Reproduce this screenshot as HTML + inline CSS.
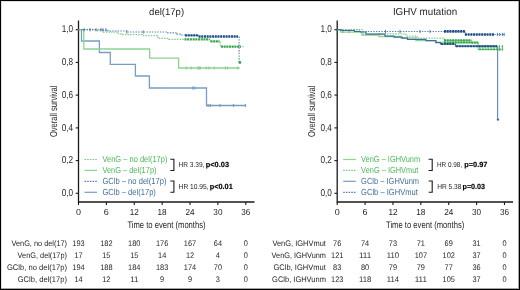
<!DOCTYPE html><html><head><meta charset="utf-8"><style>html,body{margin:0;padding:0;background:#fff;overflow:hidden;width:520px;height:290px;}svg{display:block;will-change:transform;}text{font-family:"Liberation Sans",sans-serif;text-rendering:geometricPrecision;}</style></head><body>
<svg width="520" height="290" viewBox="0 0 520 290">
<rect x="0" y="0" width="520" height="290" fill="#fff"/>
<path d="M78.5 20.5 V202.0 H254.5" fill="none" stroke="#1a1a1a" stroke-width="1.3"/>
<path d="M75.7 29.7 H78.5" stroke="#1a1a1a" stroke-width="1.1"/>
<text x="73.1" y="32.4" font-size="10" text-anchor="end" fill="#231f20" textLength="11.4" lengthAdjust="spacingAndGlyphs" >1,0</text>
<path d="M75.7 62.4 H78.5" stroke="#1a1a1a" stroke-width="1.1"/>
<text x="73.1" y="65.1" font-size="10" text-anchor="end" fill="#231f20" textLength="11.4" lengthAdjust="spacingAndGlyphs" >0,8</text>
<path d="M75.7 95.1 H78.5" stroke="#1a1a1a" stroke-width="1.1"/>
<text x="73.1" y="97.8" font-size="10" text-anchor="end" fill="#231f20" textLength="11.4" lengthAdjust="spacingAndGlyphs" >0,6</text>
<path d="M75.7 127.9 H78.5" stroke="#1a1a1a" stroke-width="1.1"/>
<text x="73.1" y="130.6" font-size="10" text-anchor="end" fill="#231f20" textLength="11.4" lengthAdjust="spacingAndGlyphs" >0,4</text>
<path d="M75.7 160.6 H78.5" stroke="#1a1a1a" stroke-width="1.1"/>
<text x="73.1" y="163.3" font-size="10" text-anchor="end" fill="#231f20" textLength="11.4" lengthAdjust="spacingAndGlyphs" >0,2</text>
<path d="M75.7 193.3 H78.5" stroke="#1a1a1a" stroke-width="1.1"/>
<text x="73.1" y="196.0" font-size="10" text-anchor="end" fill="#231f20" textLength="11.4" lengthAdjust="spacingAndGlyphs" >0,0</text>
<path d="M78.5 202.0 V205.0" stroke="#1a1a1a" stroke-width="1.1"/>
<text x="78.5" y="214.9" font-size="8.7" text-anchor="middle" fill="#231f20" textLength="5.0" lengthAdjust="spacingAndGlyphs" >0</text>
<path d="M106.38 202.0 V205.0" stroke="#1a1a1a" stroke-width="1.1"/>
<text x="106.38" y="214.9" font-size="8.7" text-anchor="middle" fill="#231f20" textLength="5.0" lengthAdjust="spacingAndGlyphs" >6</text>
<path d="M134.26 202.0 V205.0" stroke="#1a1a1a" stroke-width="1.1"/>
<text x="134.26" y="214.9" font-size="8.7" text-anchor="middle" fill="#231f20" textLength="9.1" lengthAdjust="spacingAndGlyphs" >12</text>
<path d="M162.14 202.0 V205.0" stroke="#1a1a1a" stroke-width="1.1"/>
<text x="162.14" y="214.9" font-size="8.7" text-anchor="middle" fill="#231f20" textLength="9.1" lengthAdjust="spacingAndGlyphs" >18</text>
<path d="M190.02 202.0 V205.0" stroke="#1a1a1a" stroke-width="1.1"/>
<text x="190.02" y="214.9" font-size="8.7" text-anchor="middle" fill="#231f20" textLength="9.1" lengthAdjust="spacingAndGlyphs" >24</text>
<path d="M217.9 202.0 V205.0" stroke="#1a1a1a" stroke-width="1.1"/>
<text x="217.9" y="214.9" font-size="8.7" text-anchor="middle" fill="#231f20" textLength="9.1" lengthAdjust="spacingAndGlyphs" >30</text>
<path d="M245.78 202.0 V205.0" stroke="#1a1a1a" stroke-width="1.1"/>
<text x="245.78" y="214.9" font-size="8.7" text-anchor="middle" fill="#231f20" textLength="9.1" lengthAdjust="spacingAndGlyphs" >36</text>
<text x="166.6" y="15.1" font-size="9.6" text-anchor="middle" fill="#231f20" textLength="35" lengthAdjust="spacingAndGlyphs" >del(17p)</text>
<text transform="translate(56.6 111.3) rotate(-90)" x="0" y="0" font-size="10" text-anchor="middle" fill="#231f20" textLength="51.6" lengthAdjust="spacingAndGlyphs">Overall survival</text>
<text x="166.5" y="228.0" font-size="9.6" text-anchor="middle" fill="#231f20" textLength="78.2" lengthAdjust="spacingAndGlyphs" >Time to event (months)</text>
<path d="M84.5 159.5 H97.1" stroke="#7cca85" stroke-width="1.2" stroke-dasharray="1.6 1.08"/>
<text x="102.4" y="162.4" font-size="8.8" text-anchor="start" fill="#4cb85a" textLength="65" lengthAdjust="spacingAndGlyphs" >VenG – no del(17p)</text>
<path d="M84.5 170.4 H97.1" stroke="#8cd492" stroke-width="1.2"/>
<text x="102.4" y="172.8" font-size="8.8" text-anchor="start" fill="#4cb85a" textLength="54.1" lengthAdjust="spacingAndGlyphs" >VenG – del(17p)</text>
<path d="M84.5 181.3 H97.1" stroke="#5a82af" stroke-width="1.2" stroke-dasharray="1.6 1.08"/>
<text x="102.4" y="184.2" font-size="8.8" text-anchor="start" fill="#41709f" textLength="64.1" lengthAdjust="spacingAndGlyphs" >GClb – no del(17p)</text>
<path d="M84.5 192.3 H97.1" stroke="#779ec2" stroke-width="1.2"/>
<text x="102.4" y="194.5" font-size="8.8" text-anchor="start" fill="#41709f" textLength="53.5" lengthAdjust="spacingAndGlyphs" >GClb – del(17p)</text>
<path d="M170.3 159.2 H173.9 V170.5 H170.3" fill="none" stroke="#1a1a1a" stroke-width="1.1"/>
<path d="M170.3 181.0 H173.9 V192.2 H170.3" fill="none" stroke="#1a1a1a" stroke-width="1.1"/>
<text x="178.4" y="166.8" font-size="7.2" fill="#231f20" textLength="26.0" lengthAdjust="spacingAndGlyphs">HR 3.39,</text>
<text x="205.8" y="166.8" font-size="7.4" font-weight="bold" fill="#000" stroke="#000" stroke-width="0.15" textLength="23.2" lengthAdjust="spacingAndGlyphs">p&lt;0.03</text>
<text x="178.6" y="188.8" font-size="7.2" fill="#231f20" textLength="30.0" lengthAdjust="spacingAndGlyphs">HR 10.95,</text>
<text x="209.7" y="188.8" font-size="7.4" font-weight="bold" fill="#000" stroke="#000" stroke-width="0.15" textLength="23.1" lengthAdjust="spacingAndGlyphs">p&lt;0.01</text>
<text x="67.0" y="246.0" font-size="8.1" text-anchor="end" fill="#231f20" textLength="55.5" lengthAdjust="spacingAndGlyphs" >VenG, no del(17)</text>
<text x="78.5" y="246.0" font-size="8.1" text-anchor="middle" fill="#231f20" textLength="12.3" lengthAdjust="spacingAndGlyphs" >193</text>
<text x="106.38" y="246.0" font-size="8.1" text-anchor="middle" fill="#231f20" textLength="12.3" lengthAdjust="spacingAndGlyphs" >182</text>
<text x="134.26" y="246.0" font-size="8.1" text-anchor="middle" fill="#231f20" textLength="12.3" lengthAdjust="spacingAndGlyphs" >180</text>
<text x="162.14" y="246.0" font-size="8.1" text-anchor="middle" fill="#231f20" textLength="12.3" lengthAdjust="spacingAndGlyphs" >176</text>
<text x="190.02" y="246.0" font-size="8.1" text-anchor="middle" fill="#231f20" textLength="12.3" lengthAdjust="spacingAndGlyphs" >167</text>
<text x="217.9" y="246.0" font-size="8.1" text-anchor="middle" fill="#231f20" textLength="8.2" lengthAdjust="spacingAndGlyphs" >64</text>
<text x="245.78" y="246.0" font-size="8.1" text-anchor="middle" fill="#231f20" textLength="4.1" lengthAdjust="spacingAndGlyphs" >0</text>
<text x="67.0" y="258.0" font-size="8.1" text-anchor="end" fill="#231f20" textLength="49.4" lengthAdjust="spacingAndGlyphs" >VenG, del(17p)</text>
<text x="78.5" y="258.0" font-size="8.1" text-anchor="middle" fill="#231f20" textLength="8.2" lengthAdjust="spacingAndGlyphs" >17</text>
<text x="106.38" y="258.0" font-size="8.1" text-anchor="middle" fill="#231f20" textLength="8.2" lengthAdjust="spacingAndGlyphs" >15</text>
<text x="134.26" y="258.0" font-size="8.1" text-anchor="middle" fill="#231f20" textLength="8.2" lengthAdjust="spacingAndGlyphs" >15</text>
<text x="162.14" y="258.0" font-size="8.1" text-anchor="middle" fill="#231f20" textLength="8.2" lengthAdjust="spacingAndGlyphs" >14</text>
<text x="190.02" y="258.0" font-size="8.1" text-anchor="middle" fill="#231f20" textLength="8.2" lengthAdjust="spacingAndGlyphs" >12</text>
<text x="217.9" y="258.0" font-size="8.1" text-anchor="middle" fill="#231f20" textLength="4.1" lengthAdjust="spacingAndGlyphs" >4</text>
<text x="245.78" y="258.0" font-size="8.1" text-anchor="middle" fill="#231f20" textLength="4.1" lengthAdjust="spacingAndGlyphs" >0</text>
<text x="67.0" y="269.9" font-size="8.1" text-anchor="end" fill="#231f20" textLength="60.1" lengthAdjust="spacingAndGlyphs" >GClb, no del(17p)</text>
<text x="78.5" y="269.9" font-size="8.1" text-anchor="middle" fill="#231f20" textLength="12.3" lengthAdjust="spacingAndGlyphs" >194</text>
<text x="106.38" y="269.9" font-size="8.1" text-anchor="middle" fill="#231f20" textLength="12.3" lengthAdjust="spacingAndGlyphs" >188</text>
<text x="134.26" y="269.9" font-size="8.1" text-anchor="middle" fill="#231f20" textLength="12.3" lengthAdjust="spacingAndGlyphs" >184</text>
<text x="162.14" y="269.9" font-size="8.1" text-anchor="middle" fill="#231f20" textLength="12.3" lengthAdjust="spacingAndGlyphs" >183</text>
<text x="190.02" y="269.9" font-size="8.1" text-anchor="middle" fill="#231f20" textLength="12.3" lengthAdjust="spacingAndGlyphs" >174</text>
<text x="217.9" y="269.9" font-size="8.1" text-anchor="middle" fill="#231f20" textLength="8.2" lengthAdjust="spacingAndGlyphs" >70</text>
<text x="245.78" y="269.9" font-size="8.1" text-anchor="middle" fill="#231f20" textLength="4.1" lengthAdjust="spacingAndGlyphs" >0</text>
<text x="67.0" y="281.6" font-size="8.1" text-anchor="end" fill="#231f20" textLength="49.3" lengthAdjust="spacingAndGlyphs" >GClb, del(17p)</text>
<text x="78.5" y="281.6" font-size="8.1" text-anchor="middle" fill="#231f20" textLength="8.2" lengthAdjust="spacingAndGlyphs" >14</text>
<text x="106.38" y="281.6" font-size="8.1" text-anchor="middle" fill="#231f20" textLength="8.2" lengthAdjust="spacingAndGlyphs" >12</text>
<text x="134.26" y="281.6" font-size="8.1" text-anchor="middle" fill="#231f20" textLength="8.2" lengthAdjust="spacingAndGlyphs" >11</text>
<text x="162.14" y="281.6" font-size="8.1" text-anchor="middle" fill="#231f20" textLength="4.1" lengthAdjust="spacingAndGlyphs" >9</text>
<text x="190.02" y="281.6" font-size="8.1" text-anchor="middle" fill="#231f20" textLength="4.1" lengthAdjust="spacingAndGlyphs" >9</text>
<text x="217.9" y="281.6" font-size="8.1" text-anchor="middle" fill="#231f20" textLength="4.1" lengthAdjust="spacingAndGlyphs" >3</text>
<text x="245.78" y="281.6" font-size="8.1" text-anchor="middle" fill="#231f20" textLength="4.1" lengthAdjust="spacingAndGlyphs" >0</text>
<path d="M337.2 20.5 V202.0 H513.1" fill="none" stroke="#1a1a1a" stroke-width="1.3"/>
<path d="M334.4 29.7 H337.2" stroke="#1a1a1a" stroke-width="1.1"/>
<text x="331.8" y="32.4" font-size="10" text-anchor="end" fill="#231f20" textLength="11.4" lengthAdjust="spacingAndGlyphs" >1,0</text>
<path d="M334.4 62.4 H337.2" stroke="#1a1a1a" stroke-width="1.1"/>
<text x="331.8" y="65.1" font-size="10" text-anchor="end" fill="#231f20" textLength="11.4" lengthAdjust="spacingAndGlyphs" >0,8</text>
<path d="M334.4 95.1 H337.2" stroke="#1a1a1a" stroke-width="1.1"/>
<text x="331.8" y="97.8" font-size="10" text-anchor="end" fill="#231f20" textLength="11.4" lengthAdjust="spacingAndGlyphs" >0,6</text>
<path d="M334.4 127.9 H337.2" stroke="#1a1a1a" stroke-width="1.1"/>
<text x="331.8" y="130.6" font-size="10" text-anchor="end" fill="#231f20" textLength="11.4" lengthAdjust="spacingAndGlyphs" >0,4</text>
<path d="M334.4 160.6 H337.2" stroke="#1a1a1a" stroke-width="1.1"/>
<text x="331.8" y="163.3" font-size="10" text-anchor="end" fill="#231f20" textLength="11.4" lengthAdjust="spacingAndGlyphs" >0,2</text>
<path d="M334.4 193.3 H337.2" stroke="#1a1a1a" stroke-width="1.1"/>
<text x="331.8" y="196.0" font-size="10" text-anchor="end" fill="#231f20" textLength="11.4" lengthAdjust="spacingAndGlyphs" >0,0</text>
<path d="M337.2 202.0 V205.0" stroke="#1a1a1a" stroke-width="1.1"/>
<text x="337.2" y="214.9" font-size="8.7" text-anchor="middle" fill="#231f20" textLength="5.0" lengthAdjust="spacingAndGlyphs" >0</text>
<path d="M365.08 202.0 V205.0" stroke="#1a1a1a" stroke-width="1.1"/>
<text x="365.08" y="214.9" font-size="8.7" text-anchor="middle" fill="#231f20" textLength="5.0" lengthAdjust="spacingAndGlyphs" >6</text>
<path d="M392.96 202.0 V205.0" stroke="#1a1a1a" stroke-width="1.1"/>
<text x="392.96" y="214.9" font-size="8.7" text-anchor="middle" fill="#231f20" textLength="9.1" lengthAdjust="spacingAndGlyphs" >12</text>
<path d="M420.84 202.0 V205.0" stroke="#1a1a1a" stroke-width="1.1"/>
<text x="420.84" y="214.9" font-size="8.7" text-anchor="middle" fill="#231f20" textLength="9.1" lengthAdjust="spacingAndGlyphs" >18</text>
<path d="M448.72 202.0 V205.0" stroke="#1a1a1a" stroke-width="1.1"/>
<text x="448.72" y="214.9" font-size="8.7" text-anchor="middle" fill="#231f20" textLength="9.1" lengthAdjust="spacingAndGlyphs" >24</text>
<path d="M476.6 202.0 V205.0" stroke="#1a1a1a" stroke-width="1.1"/>
<text x="476.6" y="214.9" font-size="8.7" text-anchor="middle" fill="#231f20" textLength="9.1" lengthAdjust="spacingAndGlyphs" >30</text>
<path d="M504.48 202.0 V205.0" stroke="#1a1a1a" stroke-width="1.1"/>
<text x="504.48" y="214.9" font-size="8.7" text-anchor="middle" fill="#231f20" textLength="9.1" lengthAdjust="spacingAndGlyphs" >36</text>
<text x="425.0" y="15.1" font-size="10.2" text-anchor="middle" fill="#231f20" textLength="64.2" lengthAdjust="spacingAndGlyphs" >IGHV mutation</text>
<text transform="translate(315.4 111.3) rotate(-90)" x="0" y="0" font-size="10" text-anchor="middle" fill="#231f20" textLength="51.6" lengthAdjust="spacingAndGlyphs">Overall survival</text>
<text x="425.15" y="228.0" font-size="9.6" text-anchor="middle" fill="#231f20" textLength="78.2" lengthAdjust="spacingAndGlyphs" >Time to event (months)</text>
<path d="M343.2 159.5 H355.8" stroke="#8cd492" stroke-width="1.2"/>
<text x="361.1" y="162.4" font-size="8.8" text-anchor="start" fill="#4cb85a" textLength="59" lengthAdjust="spacingAndGlyphs" >VenG – IGHVunm</text>
<path d="M343.2 170.4 H355.8" stroke="#7cca85" stroke-width="1.2" stroke-dasharray="1.6 1.08"/>
<text x="361.1" y="172.8" font-size="8.8" text-anchor="start" fill="#4cb85a" textLength="57.3" lengthAdjust="spacingAndGlyphs" >VenG – IGHVmut</text>
<path d="M343.2 181.3 H355.8" stroke="#779ec2" stroke-width="1.2"/>
<text x="361.1" y="184.2" font-size="8.8" text-anchor="start" fill="#41709f" textLength="58" lengthAdjust="spacingAndGlyphs" >GClb – IGHVunm</text>
<path d="M343.2 192.3 H355.8" stroke="#5a82af" stroke-width="1.2" stroke-dasharray="1.6 1.08"/>
<text x="361.1" y="194.5" font-size="8.8" text-anchor="start" fill="#41709f" textLength="56.7" lengthAdjust="spacingAndGlyphs" >GClb – IGHVmut</text>
<path d="M428.6 159.2 H432.2 V170.5 H428.6" fill="none" stroke="#1a1a1a" stroke-width="1.1"/>
<path d="M428.6 181.0 H432.2 V192.2 H428.6" fill="none" stroke="#1a1a1a" stroke-width="1.1"/>
<text x="437.0" y="166.8" font-size="7.2" fill="#231f20" textLength="25.2" lengthAdjust="spacingAndGlyphs">HR 0.98,</text>
<text x="464.3" y="166.8" font-size="7.4" font-weight="bold" fill="#000" stroke="#000" stroke-width="0.15" textLength="23.1" lengthAdjust="spacingAndGlyphs">p=0.97</text>
<text x="437.2" y="188.8" font-size="7.2" fill="#231f20" textLength="24.2" lengthAdjust="spacingAndGlyphs">HR 5.38</text>
<text x="462.5" y="188.8" font-size="7.4" font-weight="bold" fill="#000" stroke="#000" stroke-width="0.15" textLength="22.6" lengthAdjust="spacingAndGlyphs">p=0.03</text>
<text x="325.9" y="246.0" font-size="8.1" text-anchor="end" fill="#231f20" textLength="53.5" lengthAdjust="spacingAndGlyphs" >VenG, IGHVmut</text>
<text x="337.2" y="246.0" font-size="8.1" text-anchor="middle" fill="#231f20" textLength="8.2" lengthAdjust="spacingAndGlyphs" >76</text>
<text x="365.08" y="246.0" font-size="8.1" text-anchor="middle" fill="#231f20" textLength="8.2" lengthAdjust="spacingAndGlyphs" >74</text>
<text x="392.96" y="246.0" font-size="8.1" text-anchor="middle" fill="#231f20" textLength="8.2" lengthAdjust="spacingAndGlyphs" >73</text>
<text x="420.84" y="246.0" font-size="8.1" text-anchor="middle" fill="#231f20" textLength="8.2" lengthAdjust="spacingAndGlyphs" >71</text>
<text x="448.72" y="246.0" font-size="8.1" text-anchor="middle" fill="#231f20" textLength="8.2" lengthAdjust="spacingAndGlyphs" >69</text>
<text x="476.6" y="246.0" font-size="8.1" text-anchor="middle" fill="#231f20" textLength="8.2" lengthAdjust="spacingAndGlyphs" >31</text>
<text x="504.48" y="246.0" font-size="8.1" text-anchor="middle" fill="#231f20" textLength="4.1" lengthAdjust="spacingAndGlyphs" >0</text>
<text x="325.9" y="258.0" font-size="8.1" text-anchor="end" fill="#231f20" textLength="54.3" lengthAdjust="spacingAndGlyphs" >VenG, IGHVunm</text>
<text x="337.2" y="258.0" font-size="8.1" text-anchor="middle" fill="#231f20" textLength="12.3" lengthAdjust="spacingAndGlyphs" >121</text>
<text x="365.08" y="258.0" font-size="8.1" text-anchor="middle" fill="#231f20" textLength="12.3" lengthAdjust="spacingAndGlyphs" >111</text>
<text x="392.96" y="258.0" font-size="8.1" text-anchor="middle" fill="#231f20" textLength="12.3" lengthAdjust="spacingAndGlyphs" >110</text>
<text x="420.84" y="258.0" font-size="8.1" text-anchor="middle" fill="#231f20" textLength="12.3" lengthAdjust="spacingAndGlyphs" >107</text>
<text x="448.72" y="258.0" font-size="8.1" text-anchor="middle" fill="#231f20" textLength="12.3" lengthAdjust="spacingAndGlyphs" >102</text>
<text x="476.6" y="258.0" font-size="8.1" text-anchor="middle" fill="#231f20" textLength="8.2" lengthAdjust="spacingAndGlyphs" >37</text>
<text x="504.48" y="258.0" font-size="8.1" text-anchor="middle" fill="#231f20" textLength="4.1" lengthAdjust="spacingAndGlyphs" >0</text>
<text x="325.9" y="269.9" font-size="8.1" text-anchor="end" fill="#231f20" textLength="52.5" lengthAdjust="spacingAndGlyphs" >GClb, IGHVmut</text>
<text x="337.2" y="269.9" font-size="8.1" text-anchor="middle" fill="#231f20" textLength="8.2" lengthAdjust="spacingAndGlyphs" >83</text>
<text x="365.08" y="269.9" font-size="8.1" text-anchor="middle" fill="#231f20" textLength="8.2" lengthAdjust="spacingAndGlyphs" >80</text>
<text x="392.96" y="269.9" font-size="8.1" text-anchor="middle" fill="#231f20" textLength="8.2" lengthAdjust="spacingAndGlyphs" >79</text>
<text x="420.84" y="269.9" font-size="8.1" text-anchor="middle" fill="#231f20" textLength="8.2" lengthAdjust="spacingAndGlyphs" >79</text>
<text x="448.72" y="269.9" font-size="8.1" text-anchor="middle" fill="#231f20" textLength="8.2" lengthAdjust="spacingAndGlyphs" >77</text>
<text x="476.6" y="269.9" font-size="8.1" text-anchor="middle" fill="#231f20" textLength="8.2" lengthAdjust="spacingAndGlyphs" >36</text>
<text x="504.48" y="269.9" font-size="8.1" text-anchor="middle" fill="#231f20" textLength="4.1" lengthAdjust="spacingAndGlyphs" >0</text>
<text x="325.9" y="281.6" font-size="8.1" text-anchor="end" fill="#231f20" textLength="53.8" lengthAdjust="spacingAndGlyphs" >GClb, IGHVunm</text>
<text x="337.2" y="281.6" font-size="8.1" text-anchor="middle" fill="#231f20" textLength="12.3" lengthAdjust="spacingAndGlyphs" >123</text>
<text x="365.08" y="281.6" font-size="8.1" text-anchor="middle" fill="#231f20" textLength="12.3" lengthAdjust="spacingAndGlyphs" >118</text>
<text x="392.96" y="281.6" font-size="8.1" text-anchor="middle" fill="#231f20" textLength="12.3" lengthAdjust="spacingAndGlyphs" >114</text>
<text x="420.84" y="281.6" font-size="8.1" text-anchor="middle" fill="#231f20" textLength="12.3" lengthAdjust="spacingAndGlyphs" >111</text>
<text x="448.72" y="281.6" font-size="8.1" text-anchor="middle" fill="#231f20" textLength="12.3" lengthAdjust="spacingAndGlyphs" >105</text>
<text x="476.6" y="281.6" font-size="8.1" text-anchor="middle" fill="#231f20" textLength="8.2" lengthAdjust="spacingAndGlyphs" >37</text>
<text x="504.48" y="281.6" font-size="8.1" text-anchor="middle" fill="#231f20" textLength="4.1" lengthAdjust="spacingAndGlyphs" >0</text>
<path d="M78.5 29.7 H81.5 V41 H99.4 V52.5 H110.3 V64.4 H135.4 V76 H149.4 V88 H206.5 V105.5 H245.8" fill="none" stroke="#779ec2" stroke-width="1.3"/>
<path d="M192.6 86.4 V89.6 M194.7 86.4 V89.6" stroke="#779ec2" stroke-width="1.2"/>
<path d="M208.1 103.9 V107.1 M210.4 103.9 V107.1 M220.1 103.9 V107.1 M233.5 103.9 V107.1 M245.5 103.9 V107.1" stroke="#779ec2" stroke-width="1.2"/>
<path d="M78.5 29.7 H83.8 V49 H149.7 V58.2 H178.6 V68 H239.8" fill="none" stroke="#8cd492" stroke-width="1.3"/>
<path d="M186.4 66.4 V69.6 M191.3 66.4 V69.6 M197.8 66.4 V69.6 M199.2 66.4 V69.6 M200.3 66.4 V69.6 M206.2 66.4 V69.6 M208.9 66.4 V69.6 M214.2 66.4 V69.6 M225.3 66.4 V69.6 M227.4 66.4 V69.6 M237.8 66.4 V69.6" stroke="#8cd492" stroke-width="1.3"/>
<path d="M78.5 29.7 H96.5 V30.5 H103.4 V32.2 H117 V33.7 H121 V34.7 H142 V35.6 H158 V38.4 H169 V39.3 H209.8 V41.3 H220.3 V46.7 H243.5" fill="none" stroke="#7cca85" stroke-width="1.25" stroke-dasharray="1.4 1.3"/>
<path d="M78.5 29.7 H101 V30.3 H108 V31 H127.3 V32 H166.7 V32.9 H177 V34.2 H181 V35 H185 V35.4 H198.3 V36.5 H239.1 V62.2" fill="none" stroke="#5a82af" stroke-width="1.2" stroke-dasharray="1.4 1.3"/>
<path d="M185 35.4 H198 M198.6 36.5 H238" stroke="#1f4f86" stroke-width="2.4" stroke-dasharray="2.0 0.7"/>
<path d="M184.5 39.4 H209.5 M210.5 41.3 H219.5 M221 46.7 H241" stroke="#3aa64a" stroke-width="2.2" stroke-dasharray="2.0 0.7"/>
<path d="M84 28.1 V31.3 M90 28.1 V31.3 M96 28.1 V31.3 M101 28.1 V31.3 M103 28.1 V31.3 M106 28.1 V31.3" stroke="#41709f" stroke-width="0.9"/>
<path d="M143.2 30.4 V33.6 M126.8 30.4 V33.6" stroke="#41709f" stroke-width="0.9"/>
<circle cx="239.9" cy="62.5" r="1.4" fill="#3aa64a"/>
<path d="M337.2 29.7 H359.4 V31.5 H465 V34.5 H504.6" fill="none" stroke="#5a82af" stroke-width="1.2" stroke-dasharray="1.4 1.3"/>
<path d="M343 29.9 V33.1 M349 29.9 V33.1 M385.5 29.9 V33.1 M400 29.9 V33.1 M420 29.9 V33.1 M430 29.9 V33.1" stroke="#41709f" stroke-width="0.9"/>
<path d="M444 31.4 H465" stroke="#1f4f86" stroke-width="2.6" stroke-dasharray="2.0 0.7"/>
<path d="M465 34.5 H494" stroke="#1f4f86" stroke-width="2.4" stroke-dasharray="2.0 0.7"/>
<path d="M497.4 32.9 V36.1 M499.7 32.9 V36.1 M502.4 32.9 V36.1 M504.2 32.9 V36.1" stroke="#41709f" stroke-width="0.9"/>
<path d="M337.2 29.7 H363 V33.8 H406 V36 H417 V38.1 H444.5 V40.3 H471.4 V43.6 H478.2 V46.4 H503.3" fill="none" stroke="#7cca85" stroke-width="1.25" stroke-dasharray="1.4 1.3"/>
<path d="M337.2 29.7 H340.5 V32.2 H361.8 V35.2 H379 V36.5 H401 V37.8 H416 V40.6 H436 V42.1 H444 V42.5 H478.2 V49.3 H503.3" fill="none" stroke="#8cd492" stroke-width="1.3"/>
<path d="M444 40.3 H471.4 M444 42.4 H478" stroke="#3aa64a" stroke-width="2.0" stroke-dasharray="2.0 0.7"/>
<path d="M479 49.3 H501 M479 46.6 H497" stroke="#3aa64a" stroke-width="1.8" stroke-dasharray="2.0 0.8"/>
<path d="M499.5 45.0 V48.2 M502.5 45.0 V48.2" stroke="#4cb85a" stroke-width="0.9"/>
<path d="M499.5 47.7 V50.9 M502.5 47.7 V50.9" stroke="#4cb85a" stroke-width="0.9"/>
<path d="M337.2 29.7 H341 V30.5 H354.5 V31.5 H360.5 V32 H366 V34.2 H385 V36.2 H394 V37.2 H402 V38.2 H407.5 V39.4 H426 V40.6 H435.8 V42.7 H440.5 V44 H455.5 V46.2 H497.6" fill="none" stroke="#3f6d99" stroke-width="1.2"/>
<path d="M497.6 46.2 V119.9" fill="none" stroke="#6690bb" stroke-width="1.2"/>
<path d="M441 44 H455 M456 46.2 H497" stroke="#1f4f86" stroke-width="2.0" stroke-dasharray="2.0 0.8"/>
<circle cx="498" cy="119.6" r="1.2" fill="#41709f"/>
<rect x="0" y="0" width="520" height="1" fill="#000"/>
<rect x="0" y="0" width="1" height="290" fill="#000"/>
<rect x="519" y="0" width="1" height="290" fill="#000"/>
<rect x="0" y="289" width="520" height="1" fill="#000"/>
<rect x="518" y="1" width="1" height="288" fill="rgba(0,0,0,0.35)"/>
<rect x="1" y="288" width="517" height="1" fill="rgba(0,0,0,0.35)"/>
<rect x="1" y="1" width="1" height="287" fill="rgba(0,0,0,0.12)"/>
<rect x="2" y="1" width="516" height="1" fill="rgba(0,0,0,0.12)"/>
</svg></body></html>
